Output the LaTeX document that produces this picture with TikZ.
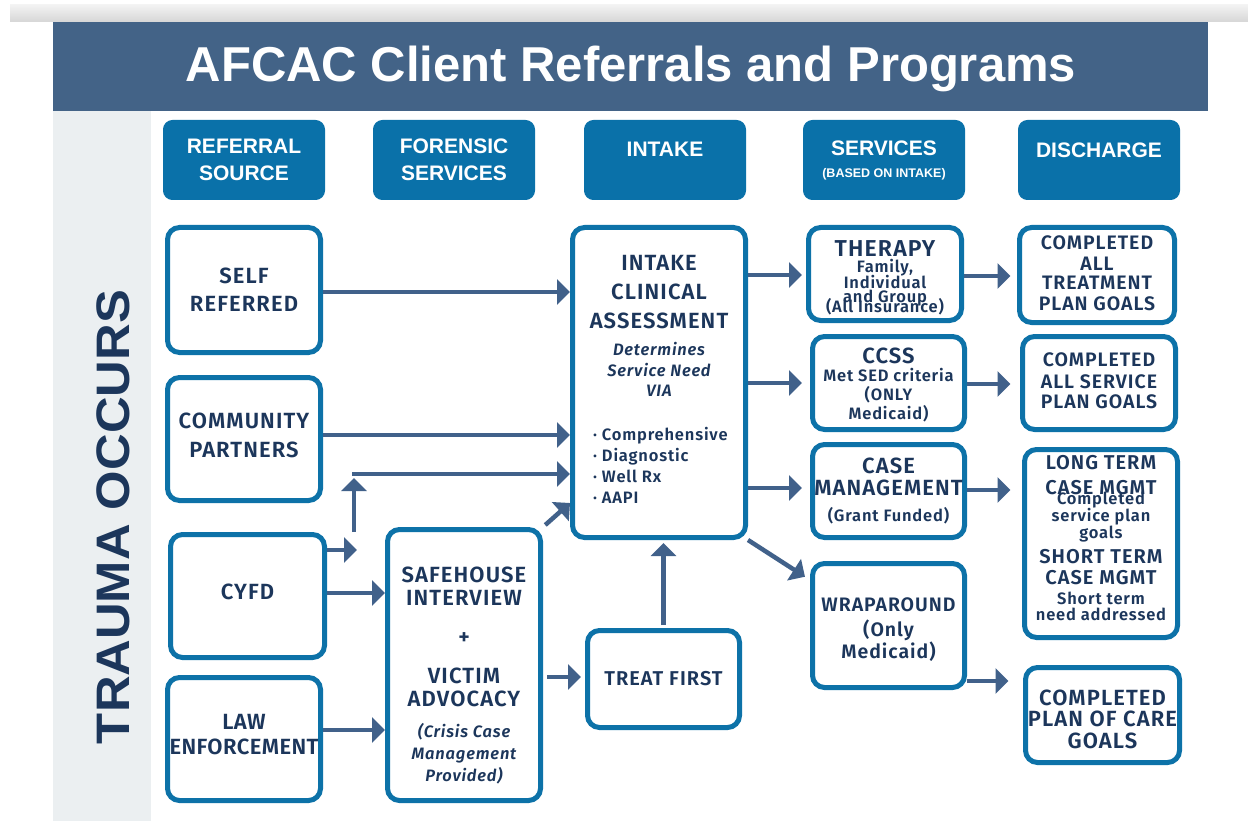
\documentclass[tikz,border=0pt]{standalone}
\usepackage{fontspec}
\setmainfont{Liberation Sans}
\newfontfamily\bodyfont{Fira Sans}[UprightFont=* SemiBold, ItalicFont=* SemiBold Italic, LetterSpace=5]
\usetikzlibrary{arrows.meta}

\definecolor{titleblue}{HTML}{436387}
\definecolor{headblue}{HTML}{0A71A9}
\definecolor{boxblue}{HTML}{0D72A8}
\definecolor{arrowblue}{HTML}{41618A}
\definecolor{navy}{HTML}{1C365B}
\definecolor{stripgray}{HTML}{EBEFF1}

% box text: fixed leading, lines may overlap
\newcommand{\boxfont}[1]{\bodyfont\fontsize{#1}{#1}\selectfont\lineskiplimit=-100pt\relax}
\newcommand{\detail}{\fontsize{16.5}{16.5}\selectfont}
\newcommand{\headfont}{\bfseries\fontsize{21}{27}\selectfont}
% invisible struts to nudge a text block inside its box
\newcommand{\padtop}[1]{\rule{0pt}{#1}}
\newcommand{\padbot}[1]{\rule[-#1]{0pt}{#1}}
\newcommand{\listitem}[1]{\hspace*{11pt}\makebox[143pt][l]{\detail ·\hspace{5pt}#1}}

\begin{document}
\begin{tikzpicture}[x=1pt,y=-1pt,>=Stealth,
  stage/.style={draw=boxblue, line width=5pt, rounded corners=12pt, fill=white, text=navy, align=center, inner sep=0pt, font=\boxfont{22}},
  column/.style={draw=headblue, fill=headblue, line width=1pt, rounded corners=9pt, minimum width=161pt, minimum height=79pt, text=white, align=center, inner sep=0pt, font=\headfont},
  link/.style={-{Triangle[length=13pt,width=25pt]}, line width=4.5pt, draw=arrowblue}]
\useasboundingbox (0,0) rectangle (1248,821);
\fill[white] (0,0) rectangle (1248,821);

% frame: grey bar, title band, side strip
\shade[top color=gray!10, bottom color=gray!32] (10,5) rectangle (1248,22);
\fill[titleblue] (53,22) rectangle (1208,111);
\fill[stripgray] (53,111) rectangle (151,821);
\node[font=\bfseries\fontsize{49}{49}\selectfont, text=white, anchor=base] (title) at (631,82) {AFCAC Client Referrals and Programs};
\node[font=\bfseries\fontsize{47}{47}\selectfont, text=navy, rotate=90] (trauma) at (113.5,517) {\scalebox{1.08}[1]{TRAUMA OCCURS}};

% column heads
\node[column] (hdref) at (244,160) {REFERRAL\\SOURCE};
\node[column] (hdfor) at (454,160) {FORENSIC\\SERVICES};
\node[column, text depth=22pt] (hdint) at (665,160) {INTAKE};
\node[column] (hdsrv) at (884,160) {SERVICES\\[-5pt]{\fontsize{12.5}{14}\selectfont (BASED ON INTAKE)}};
\node[column, text depth=20pt] (hddis) at (1099,160) {DISCHARGE};

% referral sources
\node[stage, minimum width=153pt, minimum height=125pt] (self) at (244,290) {SELF\\[6pt]REFERRED};
\node[stage, minimum width=153pt, minimum height=123pt] (community) at (244,439) {COMMUNITY\\[7pt]PARTNERS\padbot{8pt}};
\node[stage, minimum width=154pt, minimum height=123pt] (cyfd) at (247.5,596) {CYFD\padbot{8pt}};
\node[stage, minimum width=153pt, minimum height=123pt, font={\boxfont{22}\addfontfeature{LetterSpace=2}}] (law) at (244,739) {LAW\\[3pt]ENFORCEMENT\padbot{9pt}};

% forensic services
\node[stage, minimum width=153pt, minimum height=271pt] (safehouse) at (464,665) {\padtop{36pt}SAFEHOUSE\\[1pt]INTERVIEW\\[17pt]+\\[17pt]VICTIM\\[1pt]ADVOCACY\\[9pt]{\detail\itshape (Crisis Case}\\{\detail\itshape Management}\\{\detail\itshape Provided)}};

% intake
\node[stage, minimum width=173pt, minimum height=310pt] (intake) at (659,382.5) {INTAKE\\[7pt]CLINICAL\\[7pt]ASSESSMENT\\[5pt]{\detail\itshape Determines}\\[-1pt]{\detail\itshape Service Need}\\[-2pt]{\detail\itshape VIA}\\[22pt]%
  \listitem{Comprehensive}\\[-1pt]\listitem{Diagnostic}\\[-1pt]\listitem{Well Rx}\\[-1pt]\listitem{AAPI}\padbot{6pt}};
\node[stage, minimum width=152pt, minimum height=97pt, font=\boxfont{20}] (treat) at (663.5,679) {TREAT FIRST};

% services
\node[stage, minimum width=153pt, minimum height=93pt] (therapy) at (885,274) {\padtop{23pt}{\fontsize{23}{23}\selectfont THERAPY}\\[-6pt]{\detail Family,}\\[-6pt]{\detail Individual}\\[-8pt]{\detail and Group}\\[-12pt]{\detail (All Insurance)}};
\node[stage, minimum width=152pt, minimum height=93pt] (ccss) at (888.5,383) {\padtop{20pt}CCSS\\[-4pt]{\detail Met SED criteria}\\[-3pt]{\detail (ONLY}\\[-3pt]{\detail Medicaid)}};
\node[stage, minimum width=152pt, minimum height=93pt] (casemgmt) at (888.5,491) {CASE\\MANAGEMENT\\[4pt]{\detail (Grant Funded)}};
\node[stage, minimum width=152pt, minimum height=124pt, font=\boxfont{19.5}] (wrap) at (888.5,625.5) {\padtop{22pt}WRAPAROUND\\[6pt](Only\\[2pt]Medicaid)};

% discharge
\node[stage, minimum width=155pt, minimum height=95pt, font=\boxfont{19.5}] (done1) at (1097,275) {COMPLETED\\[1pt]ALL\\TREATMENT\\[1pt]PLAN GOALS\padbot{4pt}};
\node[stage, minimum width=153pt, minimum height=93pt, font=\boxfont{19.5}] (done2) at (1099,383) {COMPLETED\\[2pt]ALL SERVICE\\[1pt]PLAN GOALS\padbot{4pt}};
\node[stage, minimum width=153pt, minimum height=188pt, font=\boxfont{20}] (done3) at (1101,543.5) {LONG TERM\\[5pt]CASE MGMT\\[-10.5pt]{\detail Completed}\\[-3pt]{\detail service plan}\\[-3pt]{\detail goals}\\[5.5pt]SHORT TERM\\[1pt]CASE MGMT\\[-0.5pt]{\detail Short term}\\[-4pt]{\detail need addressed}\padbot{11pt}};
\node[stage, minimum width=154pt, minimum height=95pt] (done4) at (1102.5,715) {\padtop{24pt}COMPLETED\\[-1pt]PLAN OF CARE\\GOALS};

% CYFD split: short stub, riser, feed into intake
\coordinate (cyfdtip) at (357,550);
\coordinate (risefoot) at (354,532);
\coordinate (risehead) at (354,478);
\coordinate (bend) at (352,474);

% connectors
\draw[link] (self.east |- 0,292) -- (intake.west |- 0,292);
\draw[link] (community.east |- 0,435) -- (intake.west |- 0,435);
\draw[link] (cyfd.east |- cyfdtip) -- (cyfdtip);
\draw[link] (risefoot) -- (risehead);
\draw[link, line width=3.5pt] (bend) -- (intake.west |- bend);
\draw[link] (cyfd.east |- 0,593) -- (safehouse.west |- 0,593);
\draw[link] (law.east |- 0,730) -- (safehouse.west |- 0,730);
\draw[link, shorten <=3pt] (safehouse.north east) -- (intake.west |- 0,503);
\draw[link, shorten <=4pt, shorten >=4pt] (safehouse.east |- 0,677) -- (treat.west |- 0,677);
\draw[link, shorten <=3pt, shorten >=3pt] (treat.north) -- (treat.north |- intake.south);
\draw[link, shorten >=4pt] (intake.east |- 0,275) -- (therapy.west |- 0,275);
\draw[link, shorten >=8pt] (intake.east |- 0,383) -- (ccss.west |- 0,383);
\draw[link, shorten >=8pt] (intake.east |- 0,488) -- (casemgmt.west |- 0,488);
\draw[link, shorten >=6pt] (intake.south east) -- (wrap.west |- 0,580);
\draw[link, shorten >=6.5pt] (therapy.east |- 0,276) -- (done1.west |- 0,276);
\draw[link, shorten >=9.5pt] (ccss.east |- 0,384) -- (done2.west |- 0,384);
\draw[link, shorten >=11.5pt] (casemgmt.east |- 0,490) -- (done3.west |- 0,490);
\draw[link, shorten >=14.5pt] (wrap.east |- 0,681) -- (done4.west |- 0,681);
\end{tikzpicture}
\end{document}
